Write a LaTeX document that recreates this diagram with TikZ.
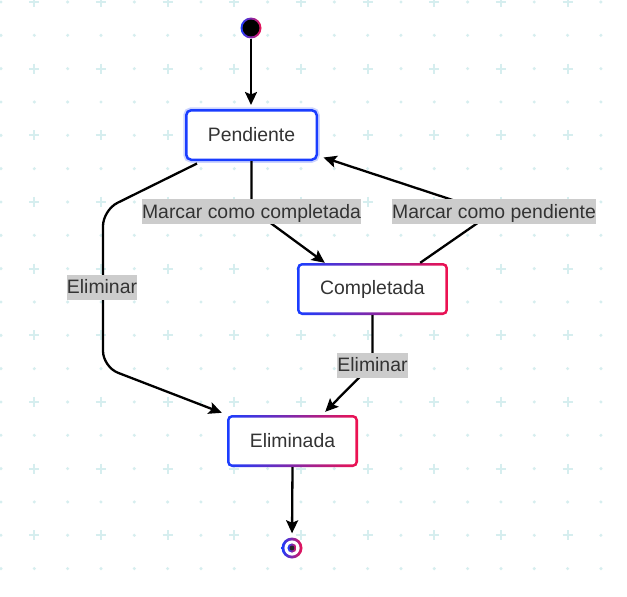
\documentclass[tikz,border=0pt]{standalone}
\usepackage{fontspec}
\setmainfont{Liberation Sans}
\usetikzlibrary{arrows.meta}
\definecolor{gblue}{HTML}{1A3DFF}
\definecolor{gred}{HTML}{EE1150}
\definecolor{gridc}{HTML}{D6EEEF}
\definecolor{lblbg}{HTML}{CCCCCC}
\definecolor{txt}{HTML}{333333}
\tikzset{
  statebox/.style={rectangle, rounded corners=5pt, font=\fontsize{19.4}{22}\selectfont, text=txt, inner sep=0pt},
  gradbox/.style={statebox, minimum height=52pt, left color=gblue, right color=gred,
    path picture={\fill[white, rounded corners=3pt] ([shift={(2.6pt,2.6pt)}]path picture bounding box.south west) rectangle ([shift={(-2.6pt,-2.6pt)}]path picture bounding box.north east);}},
  bluebox/.style={statebox, draw=gblue, line width=2.5pt, fill=white, minimum width=130.5pt, minimum height=49.5pt,
    preaction={draw=gblue, line width=6pt, opacity=0.22}},
  startdot/.style={circle, minimum size=21pt, inner sep=0pt, left color=gblue, right color=gred,
    path picture={\fill[black] (path picture bounding box.center) circle[radius=8.4pt];}},
  enddot/.style={circle, minimum size=21pt, inner sep=0pt, left color=gblue, right color=gred,
    path picture={\fill[white] (path picture bounding box.center) circle[radius=7.6pt];
      \shade[left color=gblue, right color=gred] (path picture bounding box.center) circle[radius=4.6pt];
      \fill[black!85] (path picture bounding box.center) circle[radius=2.4pt];}},
  edge/.style={draw=black, line width=2.3pt, -{Stealth[length=13pt,width=12pt,inset=2.5pt]}},
  lbl/.style={fill=lblbg, text=txt, inner sep=0pt, text height=19pt, text depth=6pt, font=\fontsize{19.4}{22}\selectfont},
}
\begin{document}
\begin{tikzpicture}[x=1pt,y=-1pt]
\useasboundingbox (0,0) rectangle (627,597);
\fill[white] (0,0) rectangle (627,597);
% background grid
\foreach \i in {0,...,19}{
  \foreach \j in {0,...,18}{
    \pgfmathsetmacro\gx{1+33.33*\i}
    \pgfmathsetmacro\gy{2+33.33*\j}
    \ifodd\i
      \ifodd\j
        \fill[gridc] (\gx,\gy) circle[radius=1.7pt];
      \else
        \draw[gridc, line width=1.8pt] (\gx-5,\gy) -- (\gx+5,\gy) (\gx,\gy-5) -- (\gx,\gy+5);
      \fi
    \else
      \fill[gridc] (\gx,\gy) circle[radius=1.7pt];
    \fi
  }
}
% nodes
\node[startdot] (start) at (251,28) {};
\node[bluebox] (pend) at (251.5,135) {Pendiente};
\node[gradbox, minimum width=151pt] (comp) at (372.5,289) {Completada};
\node[gradbox, minimum width=131pt] (elim) at (292.5,441) {Eliminada};
\node[enddot] (end) at (292,548) {};
% edges
\draw[edge, shorten >=4pt] (start.south) -- (start.south |- pend.north);
\draw[edge] (pend.south) -- (251.5,209) -- ([xshift=28pt]comp.north west);
\draw[edge] ([xshift=-28pt]comp.north east) -- (492,213) -- ([xshift=5.5pt,yshift=3.5pt]pend.south east);
\draw[edge, rounded corners=16pt] ([xshift=12pt,yshift=-2.5pt]pend.south west) -- (103,210) -- (103,367) -- ([xshift=-5pt,yshift=2pt]elim.north west);
\draw[edge] (comp.south) -- (372.5,364) -- ([xshift=-33pt,yshift=3pt]elim.north east);
\draw[edge, shorten >=4pt] (elim.south) -- (end.north);
% labels
\node[lbl] (l1) at (251.5,211.5) {Marcar como completada};
\node[lbl] (l2) at (494,211.5) {Marcar como pendiente};
\node[lbl] (l3) at (102,287) {Eliminar};
\node[lbl] (l4) at (372.5,365) {Eliminar};
\end{tikzpicture}
\end{document}
